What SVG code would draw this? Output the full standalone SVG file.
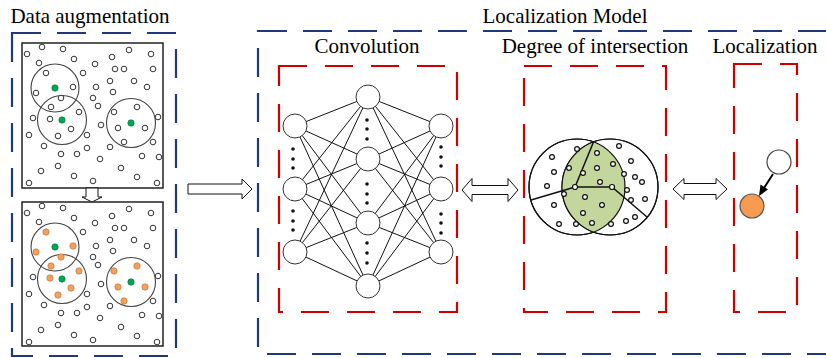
<svg xmlns="http://www.w3.org/2000/svg" width="826" height="358" viewBox="0 0 826 358">
  <style>
    .label { font-size: 21px; fill: #000; text-anchor: middle; }
    .blue { fill: none; stroke: #1F3A7A; stroke-width: 2.2; stroke-dasharray: 29 16; }
    .red { fill: none; stroke: #D00000; stroke-width: 2.2; stroke-dasharray: 28 18; }
    .panel { fill: #fff; stroke: #222; stroke-width: 1.5; }
    .range { fill: none; stroke: #444; stroke-width: 1.1; }
    .pt { fill: #fff; stroke: #333; stroke-width: 1; }
    .pt-o { fill: #F4A15D; stroke: #B86A2A; stroke-width: 0.6; }
    .pt-g { fill: #00A651; stroke: #00723A; stroke-width: 0.6; }
    .node { fill: #fff; stroke: #333; stroke-width: 1; }
    .dot { fill: #111; }
    .hollow { fill: #fff; stroke: #111; stroke-width: 1; }
    .link { stroke: #111; stroke-width: 1; }
    .venn { fill: #fff; stroke: #111; stroke-width: 1.2; }
    .vline { stroke: #111; stroke-width: 1.5; fill: none; }
    .vpt { fill: #fff; stroke: #111; stroke-width: 1.2; }
  </style>
  <defs>
    <!-- scattered nodes of one panel -->
    <g id="scatter">
      <circle class="pt" cx="27" cy="54" r="2.8"/>
      <circle class="pt" cx="42" cy="47" r="2.8"/>
      <circle class="pt" cx="63" cy="49" r="2.8"/>
      <circle class="pt" cx="112" cy="57" r="2.8"/>
      <circle class="pt" cx="129" cy="50" r="2.8"/>
      <circle class="pt" cx="151" cy="54" r="2.8"/>
      <circle class="pt" cx="39" cy="63" r="2.8"/>
      <circle class="pt" cx="74" cy="59" r="2.8"/>
      <circle class="pt" cx="95" cy="64" r="2.8"/>
      <circle class="pt" cx="115" cy="69" r="2.8"/>
      <circle class="pt" cx="124" cy="69" r="2.8"/>
      <circle class="pt" cx="153" cy="69" r="2.8"/>
      <circle class="pt" cx="83" cy="73" r="2.8"/>
      <circle class="pt" cx="110" cy="81" r="2.8"/>
      <circle class="pt" cx="134" cy="81" r="2.8"/>
      <circle class="pt" cx="96" cy="87" r="2.8"/>
      <circle class="pt" cx="113" cy="92" r="2.8"/>
      <circle class="pt" cx="147" cy="87" r="2.8"/>
      <circle class="pt" cx="93" cy="98" r="2.8"/>
      <circle class="pt" cx="98" cy="106" r="2.8"/>
      <circle class="pt" cx="33" cy="118" r="2.8"/>
      <circle class="pt" cx="101" cy="125" r="2.8"/>
      <circle class="pt" cx="158" cy="117" r="2.8"/>
      <circle class="pt" cx="29" cy="135" r="2.8"/>
      <circle class="pt" cx="87" cy="135" r="2.8"/>
      <circle class="pt" cx="153" cy="142" r="2.8"/>
      <circle class="pt" cx="44" cy="146" r="2.8"/>
      <circle class="pt" cx="110" cy="147" r="2.8"/>
      <circle class="pt" cx="61" cy="154" r="2.8"/>
      <circle class="pt" cx="77" cy="154" r="2.8"/>
      <circle class="pt" cx="87" cy="148" r="2.8"/>
      <circle class="pt" cx="142" cy="156" r="2.8"/>
      <circle class="pt" cx="100" cy="159" r="2.8"/>
      <circle class="pt" cx="159" cy="157" r="2.8"/>
      <circle class="pt" cx="58" cy="166" r="2.8"/>
      <circle class="pt" cx="41" cy="171" r="2.8"/>
      <circle class="pt" cx="121" cy="168" r="2.8"/>
      <circle class="pt" cx="74" cy="176" r="2.8"/>
      <circle class="pt" cx="137" cy="177" r="2.8"/>
      <circle class="pt" cx="29" cy="183" r="2.8"/>
      <circle class="pt" cx="93" cy="181" r="2.8"/>
      <circle class="pt" cx="157" cy="183" r="2.8"/>
      <circle class="range" cx="55" cy="88" r="24"/>
      <circle class="range" cx="62" cy="120" r="24.5"/>
      <circle class="range" cx="131" cy="123" r="24.5"/>
      <circle class="pt-g" cx="55" cy="88" r="3.2"/>
      <circle class="pt-g" cx="62" cy="120" r="3.2"/>
      <circle class="pt-g" cx="131" cy="123" r="3.2"/>
    </g>
  </defs>

  <!-- titles -->
  <g font-family="Liberation Serif, Times New Roman, serif">
    <text class="label" x="90" y="23">Data augmentation</text>
    <text class="label" x="565" y="23">Localization Model</text>
    <text class="label" x="367" y="53">Convolution</text>
    <text class="label" x="595" y="53">Degree of intersection</text>
    <text class="label" x="765" y="53">Localization</text>
  </g>

  <!-- frames -->
  <rect class="blue" x="12" y="33" width="164" height="323"/>
  <rect class="blue" x="258" y="31" width="600" height="323"/>
  <rect class="red" x="279" y="66" width="178" height="246"/>
  <rect class="red" x="524" y="66" width="142" height="246"/>
  <rect class="red" x="734" y="64" width="63" height="248"/>

  <!-- original scattered network -->
  <g id="panel-original">
    <rect class="panel" x="22" y="43" width="141" height="145"/>
    <use href="#scatter"/>
    <circle class="pt" cx="46" cy="73" r="2.8"/>
    <circle class="pt" cx="73" cy="87" r="2.8"/>
    <circle class="pt" cx="36" cy="93" r="2.8"/>
    <circle class="pt" cx="61" cy="98" r="2.8"/>
    <circle class="pt" cx="51" cy="107" r="2.8"/>
    <circle class="pt" cx="79" cy="112" r="2.8"/>
    <circle class="pt" cx="50" cy="119" r="2.8"/>
    <circle class="pt" cx="71" cy="129" r="2.8"/>
    <circle class="pt" cx="58" cy="136" r="2.8"/>
    <circle class="pt" cx="114" cy="112" r="2.8"/>
    <circle class="pt" cx="137" cy="107" r="2.8"/>
    <circle class="pt" cx="118" cy="128" r="2.8"/>
    <circle class="pt" cx="145" cy="128" r="2.8"/>
    <circle class="pt" cx="124" cy="142" r="2.8"/>
  </g>

  <!-- augmented network -->
  <g id="panel-augmented">
    <rect class="panel" x="22" y="202" width="141" height="144"/>
    <g transform="translate(0 159)">
      <use href="#scatter"/>
      <circle class="pt-o" cx="46" cy="73" r="3.2"/>
      <circle class="pt-o" cx="73" cy="87" r="3.2"/>
      <circle class="pt-o" cx="36" cy="93" r="3.2"/>
      <circle class="pt-o" cx="61" cy="98" r="3.2"/>
      <circle class="pt-o" cx="51" cy="107" r="3.2"/>
      <circle class="pt-o" cx="79" cy="112" r="3.2"/>
      <circle class="pt-o" cx="50" cy="119" r="3.2"/>
      <circle class="pt-o" cx="71" cy="129" r="3.2"/>
      <circle class="pt-o" cx="58" cy="136" r="3.2"/>
      <circle class="pt-o" cx="114" cy="112" r="3.2"/>
      <circle class="pt-o" cx="137" cy="107" r="3.2"/>
      <circle class="pt-o" cx="118" cy="128" r="3.2"/>
      <circle class="pt-o" cx="145" cy="128" r="3.2"/>
      <circle class="pt-o" cx="124" cy="142" r="3.2"/>
    </g>
  </g>

  <!-- connectors -->
  <g id="connectors">
    <polygon class="hollow" points="86,188 98,188 98,197 102,197 92,202 82,197 86,197"/>
    <polygon class="hollow" points="188,184 242,184 242,179 252,189 242,199 242,194 188,194"/>
    <polygon class="hollow" points="462,190 472,178.5 472,185.5 508,185.5 508,178.5 518,190 508,201.5 508,194.5 472,194.5 472,201.5"/>
    <polygon class="hollow" points="673,189 684,178.5 684,183.5 716,183.5 716,178.5 727,189 716,199.5 716,194.5 684,194.5 684,199.5"/>
  </g>

  <!-- convolution network -->
  <g id="conv-net">
    <g class="link">
      <line x1="295" y1="126" x2="368" y2="97"/><line x1="295" y1="126" x2="368" y2="159"/><line x1="295" y1="126" x2="368" y2="223"/><line x1="295" y1="126" x2="368" y2="286"/>
      <line x1="295" y1="189" x2="368" y2="97"/><line x1="295" y1="189" x2="368" y2="159"/><line x1="295" y1="189" x2="368" y2="223"/><line x1="295" y1="189" x2="368" y2="286"/>
      <line x1="295" y1="252" x2="368" y2="97"/><line x1="295" y1="252" x2="368" y2="159"/><line x1="295" y1="252" x2="368" y2="223"/><line x1="295" y1="252" x2="368" y2="286"/>
      <line x1="441" y1="126" x2="368" y2="97"/><line x1="441" y1="126" x2="368" y2="159"/><line x1="441" y1="126" x2="368" y2="223"/><line x1="441" y1="126" x2="368" y2="286"/>
      <line x1="441" y1="189" x2="368" y2="97"/><line x1="441" y1="189" x2="368" y2="159"/><line x1="441" y1="189" x2="368" y2="223"/><line x1="441" y1="189" x2="368" y2="286"/>
      <line x1="441" y1="252" x2="368" y2="97"/><line x1="441" y1="252" x2="368" y2="159"/><line x1="441" y1="252" x2="368" y2="223"/><line x1="441" y1="252" x2="368" y2="286"/>
    </g>
    <circle class="node" cx="295" cy="126" r="12"/>
    <circle class="node" cx="295" cy="189" r="12"/>
    <circle class="node" cx="295" cy="252" r="12"/>
    <circle class="node" cx="368" cy="97" r="12"/>
    <circle class="node" cx="368" cy="159" r="12"/>
    <circle class="node" cx="368" cy="223" r="12"/>
    <circle class="node" cx="368" cy="286" r="12"/>
    <circle class="node" cx="441" cy="126" r="12"/>
    <circle class="node" cx="441" cy="189" r="12"/>
    <circle class="node" cx="441" cy="252" r="12"/>
    <g class="dot">
      <circle cx="293" cy="149" r="1.8"/><circle cx="293" cy="159" r="1.8"/><circle cx="293" cy="168" r="1.8"/>
      <circle cx="293" cy="211" r="1.8"/><circle cx="293" cy="221" r="1.8"/><circle cx="293" cy="230" r="1.8"/>
      <circle cx="367" cy="120" r="1.8"/><circle cx="367" cy="129" r="1.8"/><circle cx="367" cy="139" r="1.8"/>
      <circle cx="367" cy="184" r="1.8"/><circle cx="367" cy="194" r="1.8"/><circle cx="367" cy="203" r="1.8"/>
      <circle cx="367" cy="243" r="1.8"/><circle cx="367" cy="253" r="1.8"/><circle cx="367" cy="263" r="1.8"/>
      <circle cx="441" cy="147" r="1.8"/><circle cx="441" cy="157" r="1.8"/><circle cx="441" cy="166" r="1.8"/>
      <circle cx="441" cy="214" r="1.8"/><circle cx="441" cy="223" r="1.8"/><circle cx="441" cy="233" r="1.8"/>
    </g>
  </g>

  <!-- intersection of two communication ranges -->
  <g id="intersection">
    <circle class="venn" cx="577" cy="187" r="48"/>
    <circle class="venn" cx="610" cy="187" r="48"/>
    <path d="M593.5,141.9 A48,48 0 0 0 593.5,232.1 A48,48 0 0 0 593.5,141.9 Z" fill="#C3D69B"/>
    <circle cx="577" cy="187" r="48" fill="none" stroke="#111" stroke-width="1.2"/>
    <circle cx="610" cy="187" r="48" fill="none" stroke="#111" stroke-width="1.2"/>
    <path class="vline" d="M531,200 L575,187 L612,187 L647,217 M575,187 L593.5,142"/>
    <circle class="vpt" cx="575" cy="187" r="2.5"/>
    <circle class="vpt" cx="612" cy="187" r="2.5"/>
    <g class="vpt">
      <circle cx="552" cy="157" r="2.4"/><circle cx="577" cy="149" r="2.4"/><circle cx="597" cy="153" r="2.4"/>
      <circle cx="619" cy="146" r="2.4"/><circle cx="554" cy="172" r="2.4"/><circle cx="569" cy="168" r="2.4"/>
      <circle cx="583" cy="173" r="2.4"/><circle cx="597" cy="168" r="2.4"/><circle cx="613" cy="164" r="2.4"/>
      <circle cx="631" cy="161" r="2.4"/><circle cx="624" cy="174" r="2.4"/><circle cx="635" cy="177" r="2.4"/>
      <circle cx="642" cy="182" r="2.4"/><circle cx="547" cy="186" r="2.4"/><circle cx="600" cy="182" r="2.4"/>
      <circle cx="627" cy="190" r="2.4"/><circle cx="564" cy="194" r="2.4"/><circle cx="585" cy="197" r="2.4"/>
      <circle cx="645" cy="199" r="2.4"/><circle cx="631" cy="200" r="2.4"/><circle cx="554" cy="205" r="2.4"/>
      <circle cx="602" cy="205" r="2.4"/><circle cx="583" cy="213" r="2.4"/><circle cx="635" cy="217" r="2.4"/>
      <circle cx="626" cy="221" r="2.4"/><circle cx="559" cy="224" r="2.4"/><circle cx="576" cy="224" r="2.4"/>
      <circle cx="592" cy="223" r="2.4"/><circle cx="611" cy="224" r="2.4"/>
    </g>
  </g>

  <!-- estimated position -->
  <g id="localization">
    <circle cx="779" cy="162" r="12" fill="#fff" stroke="#444" stroke-width="1.2"/>
    <circle cx="752" cy="206" r="12" fill="#F79A52" stroke="#555" stroke-width="1.2"/>
    <line x1="773" y1="174" x2="764" y2="188" stroke="#000" stroke-width="2"/>
    <polygon points="759,196 760.5,184.5 768,189.5" fill="#000"/>
  </g>
</svg>
